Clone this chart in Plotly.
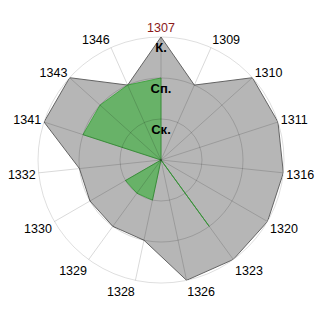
import plotly.graph_objects as go

categories = ["1307", "1309", "1310", "1311", "1316", "1320", "1323", "1326",
              "1328", "1329", "1330", "1332", "1341", "1343", "1346"]
gray_values = [3, 2, 3, 3, 3, 3, 3, 3, 2, 2, 2, 2, 3, 3, 2]
green_values = [2, 0, 0, 0, 0, 0, 2, 0, 1, 1, 1, 0, 2, 2, 2]
level_values = [1, 2, 3]
level_labels = ["Ск.", "Сп.", "К."]
highlight = "1307"

def closed(a):
    return list(a) + [a[0]]

tick_text = [f"<span style='color:#8b1a1a'>{c}</span>" if c == highlight else c
             for c in categories]

fig = go.Figure()
fig.add_trace(go.Scatterpolar(
    r=closed(gray_values), theta=closed(categories), mode="lines",
    fill="toself", fillcolor="rgb(182,182,182)",
    line=dict(color="rgb(100,100,100)", width=1), cliponaxis=False,
    hoverinfo="skip", subplot="polar"))
fig.add_trace(go.Scatterpolar(
    r=closed(green_values), theta=closed(categories), mode="lines",
    fill="toself", fillcolor="rgb(104,178,104)",
    line=dict(color="rgb(70,165,70)", width=1), cliponaxis=False,
    hoverinfo="skip", subplot="polar"))
fig.add_trace(go.Scatterpolar(
    r=level_values, theta=[highlight] * len(level_values), mode="markers+text",
    marker=dict(size=6, opacity=0),
    text=level_labels, textposition="bottom center",
    textfont=dict(family="Liberation Sans", size=13, color="black"),
    texttemplate="<b>%{text}</b>", cliponaxis=False, hoverinfo="skip",
    subplot="polar2"))

grid = "rgba(0,0,0,0.15)"
base_ang = dict(
    type="category", categoryarray=categories, categoryorder="array",
    direction="clockwise", rotation=90, ticks="")
base_rad = dict(range=[0, 3], tickvals=level_values, showticklabels=False,
                showline=False, ticks="")

fig.update_layout(
    width=320, height=320,
    margin=dict(l=38, r=36, t=37, b=37),
    paper_bgcolor="white", plot_bgcolor="white",
    showlegend=False,
    font=dict(family="Liberation Sans", size=12.5, color="black"),
    polar=dict(
        domain=dict(x=[0, 1], y=[0, 1]),
        bgcolor="white",
        angularaxis=dict(**base_ang, showgrid=False, showline=False,
                         showticklabels=False),
        radialaxis=dict(**base_rad, showgrid=False),
    ),
    polar2=dict(
        domain=dict(x=[0, 1], y=[0, 1]),
        bgcolor="rgba(0,0,0,0)",
        angularaxis=dict(**base_ang, tickvals=categories, ticktext=tick_text,
                         showgrid=True, gridcolor=grid, gridwidth=1,
                         showline=True, linecolor="rgba(0,0,0,0.13)",
                         linewidth=1,
                         tickfont=dict(family="Liberation Sans", size=12.5,
                                       color="black")),
        radialaxis=dict(**base_rad, showgrid=True, gridcolor=grid,
                        gridwidth=1),
    ),
)

fig.write_html("out.html")
